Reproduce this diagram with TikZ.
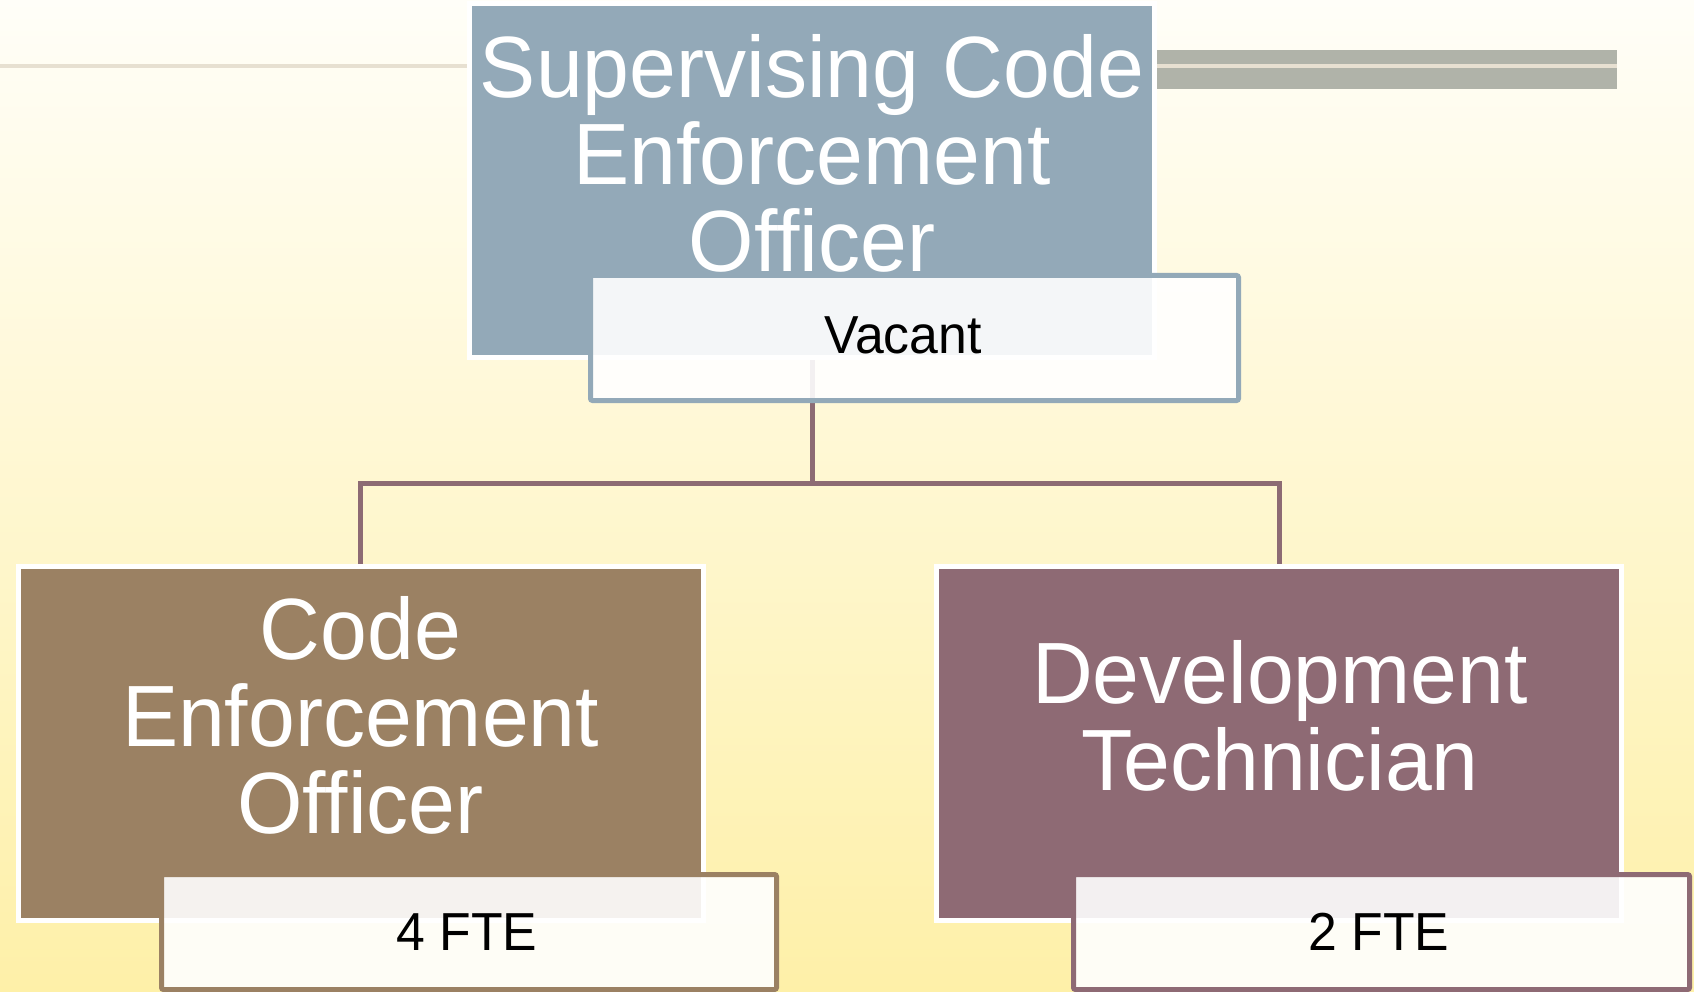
\documentclass[tikz,border=0pt]{standalone}
\usepackage{fontspec}
\setmainfont{Liberation Sans}
\newfontfamily\arialc[FakeStretch=0.967]{Liberation Sans}
\pgfdeclarelayer{back}
\pgfdeclarelayer{wires}
\pgfsetlayers{back,wires,main}
\definecolor{topblue}{HTML}{93A9B8}
\definecolor{codebrown}{HTML}{9B8163}
\definecolor{devmauve}{HTML}{8E6A74}
\definecolor{wire}{HTML}{8D6B74}
\definecolor{rulebeige}{HTML}{E7E0D1}
\definecolor{bargray}{HTML}{B0B3A9}
\definecolor{bgtop}{HTML}{FFFEF8}
\definecolor{bgmid}{HTML}{FFF7D6}
\definecolor{bgbot}{HTML}{FEF0A8}
\begin{document}
\begin{tikzpicture}[x=1pt,y=-1pt,
  rolebox/.style={draw=white,line width=5pt,minimum width=685pt,minimum height=354pt,inner sep=0pt,outer sep=0pt},
  notebox/.style={line width=5pt,fill=white,fill opacity=0.9,rounded corners=2pt,inner sep=0pt,outer sep=0pt},
  bigtext/.style={font=\arialc\fontsize{87}{87}\selectfont,text=white,align=center,inner sep=0pt,anchor=north},
  smalltext/.style={font=\arialc\fontsize{53.5}{60}\selectfont,text=black,inner sep=0pt,anchor=base},
  wirestyle/.style={draw=wire,line width=5pt}
]
\begin{pgfonlayer}{back}
\shade[top color=bgtop,middle color=bgmid,bottom color=bgbot] (0,0) rectangle (1694,992);
\end{pgfonlayer}
\useasboundingbox (0,0) rectangle (1694,992);

% decorative rules
\draw[rulebeige,line width=4pt] (0,66) -- (467,66);
\fill[bargray] (1157,50) rectangle (1617,89);
\draw[rulebeige,line width=4pt] (1157,66) -- (1617,66);

% role boxes
\node[rolebox,fill=topblue] (top) at (812,180.5) {};
\node[rolebox,fill=codebrown] (code) at (360.5,743.5) {};
\node[rolebox,fill=devmauve] (dev) at (1279,743.5) {};

% connectors
\coordinate (bus) at (812,483);
\begin{pgfonlayer}{wires}
\draw[wirestyle] (top.south) -- (bus);
\draw[wirestyle] (code.north) |- (bus) -| (dev.north);
\end{pgfonlayer}

% note boxes
\node[notebox,draw=topblue,minimum width=648pt,minimum height=125pt] (vac) at (914.5,338) {};
\node[notebox,draw=codebrown,minimum width=615pt,minimum height=115pt] (fa) at (469,932) {};
\node[notebox,draw=devmauve,minimum width=616pt,minimum height=115pt] (fb) at (1381.5,932) {};

% texts
\node[bigtext] (toptext) at (812,7) {\rule{0pt}{90pt}Supervising Code\\Enforcement\\Officer};
\node[bigtext] (codetext) at (360.5,569) {\rule{0pt}{90pt}Code\\Enforcement\\Officer};
\node[bigtext] (devtext) at (1280,613) {\rule{0pt}{90pt}Development\\Technician};
\node[smalltext] (vactext) at (903,353) {Vacant};
\node[smalltext] (ftea) at (467,950) {4 FTE};
\node[smalltext] (fteb) at (1379,950) {2 FTE};
\end{tikzpicture}
\end{document}
